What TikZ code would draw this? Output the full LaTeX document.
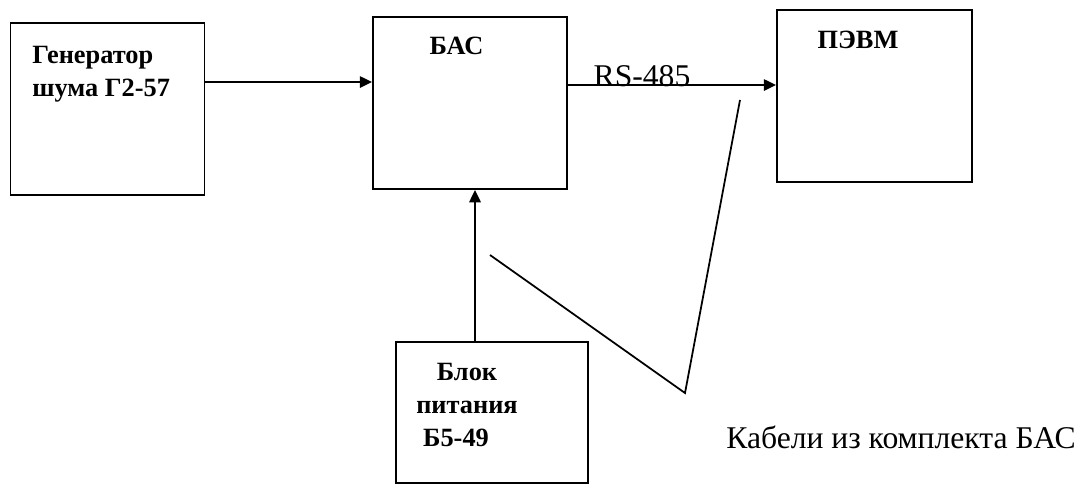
\documentclass[tikz,border=0pt]{standalone}
\usepackage{fontspec}
\setmainfont{Liberation Serif}
\usetikzlibrary{arrows.meta}

\begin{document}
\begin{tikzpicture}[x=0.02cm, y=-0.02cm,
    box/.style={draw, line width=1.1pt, minimum width=3.88cm, minimum height=3.44cm, inner sep=0pt},
    lbl/.style={font=\fontsize{15}{16}\selectfont\bfseries, inner sep=0pt},
    note/.style={font=\fontsize{18}{20}\selectfont, inner sep=0pt},
    arrowstyle/.style={-{Triangle[length=7pt,width=6.5pt]}, line width=1.1pt},
    cable/.style={line width=1pt}
  ]
  \useasboundingbox (0,0) rectangle (1088,485);

  % Blocks
  \node[box] (gen) at (107.5,109) {};
  \node[box] (bac) at (470,103) {};
  \node[box, minimum width=3.9cm] (pevm) at (874.5,96) {};
  \node[box, minimum width=3.84cm, minimum height=2.82cm] (psu) at (492,412.5) {};

  % Block labels
  \node[lbl, anchor=north west, align=left] (genlbl) at (32,46) {Генератор\\[0.1cm]шума Г2-57};
  \node[lbl, anchor=base] (baclbl) at (456.5,54) {БАС};
  \node[lbl, anchor=base] (pevmlbl) at (858,48) {ПЭВМ};
  \node[lbl, anchor=north, align=center] (psulbl) at (467,363)
    {Блок\\[0.1cm]питания\\[0.1cm]Б5-49\hspace*{0.44cm}};

  % Arrows
  \draw[arrowstyle] ([yshift=0.54cm]gen.east) -- ([yshift=0.54cm]gen.east -| bac.west);
  \draw[arrowstyle] ([yshift=0.36cm]bac.east) -- ([yshift=0.36cm]bac.east -| pevm.west);
  \draw[arrowstyle] ([xshift=-0.34cm]psu.north) -- ([xshift=-0.34cm]psu.north |- bac.south);
  \node[note, anchor=base] (rs) at (642,86) {RS-485};

  % Cables
  \coordinate (c1) at (490,255);
  \coordinate (c2) at (685,393);
  \coordinate (c3) at (740,100);
  \draw[cable] (c1) -- (c2) -- (c3);
  \node[note, anchor=base] (cab) at (901,448) {Кабели из комплекта БАС};
\end{tikzpicture}
\end{document}
